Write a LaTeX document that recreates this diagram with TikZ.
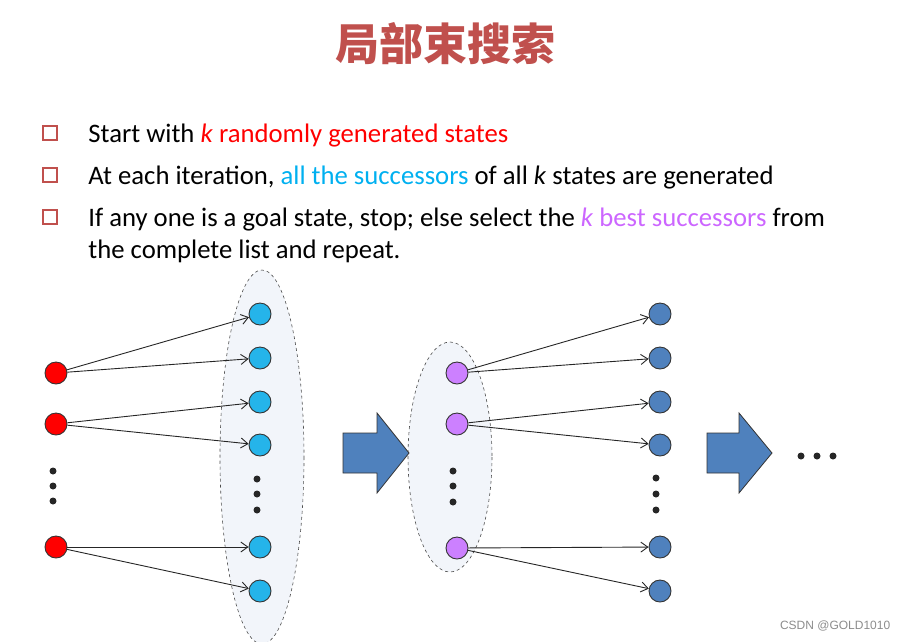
\documentclass[tikz,border=0pt]{standalone}
\usepackage{fontspec}
\setmainfont{Carlito}
\newfontfamily\cjkfont{Noto Sans CJK SC}
\newfontfamily\wmfont{Liberation Sans}
\usetikzlibrary{arrows.meta}
\definecolor{titrerouge}{HTML}{C0504D}
\definecolor{textbleu}{HTML}{00B0F0}
\definecolor{textviolet}{HTML}{CC66FF}
\definecolor{etatrouge}{HTML}{FF0000}
\definecolor{etatcyan}{HTML}{25B4EA}
\definecolor{etatviolet}{HTML}{CC80FF}
\definecolor{etatbleu}{HTML}{4F81BD}
\definecolor{fondellipse}{HTML}{F2F5FA}
\begin{document}
\begin{tikzpicture}[x=1pt,y=-1pt,line width=.8pt,
  etat/.style={circle,draw=black!80,line width=.9pt,minimum size=22pt,inner sep=0pt},
  point/.style={circle,fill=black!85,minimum size=7pt,inner sep=0pt},
  fleche/.style={black!85,line width=.9pt,-{Straight Barb[length=7pt,width=10pt]}},
  puce/.style={draw=titrerouge,line width=1.4pt,minimum size=14pt,inner sep=0pt},
  groupe/.style={draw=black!70,dashed,line width=.6pt,fill=fondellipse},
  grossefleche/.style={draw=black!80,line width=.8pt,fill=etatbleu}]
\useasboundingbox (0,0) rectangle (909,641);
\node[font=\cjkfont\bfseries\fontsize{44}{52}\selectfont,text=titrerouge] (titre) at (445,44) {局部束搜索};
% Liste des trois puces
\node[puce] (p1) at (50,133) {};
\node[puce] (p2) at (50,175) {};
\node[puce] (p3) at (50,217) {};
\begin{scope}[every node/.style={anchor=base west,inner sep=0pt,font=\fontsize{26.7}{30}\selectfont}]
\node (l1) at (88,142) {Start with \textcolor{etatrouge}{\textit{k} randomly generated states}};
\node (l2) at (88,184) {At each iteration, \textcolor{textbleu}{all the successors} of all \textit{k} states are generated};
\node (l3) at (88,226) {If any one is a goal state, stop; else select the \textcolor{textviolet}{\textit{k} best successors} from};
\node (l4) at (88,258) {the complete list and repeat.};
\end{scope}
% Ensembles en pointillés
\draw[groupe] (262,457) ellipse [x radius=42,y radius=187];
\draw[groupe] (450,457) ellipse [x radius=42,y radius=115];
% Etats de départ (rouges)
\node[etat,fill=etatrouge] (r1) at (56,373) {};
\node[etat,fill=etatrouge] (r2) at (56,424) {};
\node[etat,fill=etatrouge] (r3) at (56,547) {};
\node[point] (dr1) at (53,471) {};
\node[point] (dr2) at (53,486) {};
\node[point] (dr3) at (53,501) {};
% Successeurs (cyan)
\foreach \y [count=\i] in {314,358,402,445,547,591}
  \node[etat,fill=etatcyan] (c\i) at (260,\y) {};
\node[point] (dc1) at (257,479) {};
\node[point] (dc2) at (257,494) {};
\node[point] (dc3) at (257,510) {};
\draw[fleche] (r1) -- (c1);
\draw[fleche] (r1) -- (c2);
\draw[fleche] (r2) -- (c3);
\draw[fleche] (r2) -- (c4);
\draw[fleche] (r3) -- (c5);
\draw[fleche] (r3) -- (c6);
% Première grosse flèche
\draw[grossefleche] (343,433) -- (377,433) -- (377,413) -- (409,453) -- (377,493) -- (377,473) -- (343,473) -- cycle;
% k meilleurs successeurs (violets)
\node[etat,fill=etatviolet] (v1) at (457,373) {};
\node[etat,fill=etatviolet] (v2) at (457,424) {};
\node[etat,fill=etatviolet] (v3) at (457,548) {};
\node[point] (dv1) at (453,471) {};
\node[point] (dv2) at (453,486) {};
\node[point] (dv3) at (453,502) {};
% Nouveaux successeurs (bleus)
\foreach \y [count=\i] in {314,358,402,445,547,591}
  \node[etat,fill=etatbleu] (b\i) at (660,\y) {};
\node[point] (db1) at (656,478) {};
\node[point] (db2) at (656,494) {};
\node[point] (db3) at (656,510) {};
\draw[fleche] (v1) -- (b1);
\draw[fleche] (v1) -- (b2);
\draw[fleche] (v2) -- (b3);
\draw[fleche] (v2) -- (b4);
\draw[fleche] (v3) -- (b5);
\draw[fleche] (v3) -- (b6);
% Seconde grosse flèche et suite
\draw[grossefleche] (707,433) -- (739,433) -- (739,413) -- (772,453) -- (739,493) -- (739,473) -- (707,473) -- cycle;
\node[point] (s1) at (801,456) {};
\node[point] (s2) at (817,456) {};
\node[point] (s3) at (833,456) {};
\node[font=\wmfont\fontsize{12}{14}\selectfont,text=black!45,anchor=east] (marque) at (894,626) {CSDN @GOLD1010};
\end{tikzpicture}
\end{document}
